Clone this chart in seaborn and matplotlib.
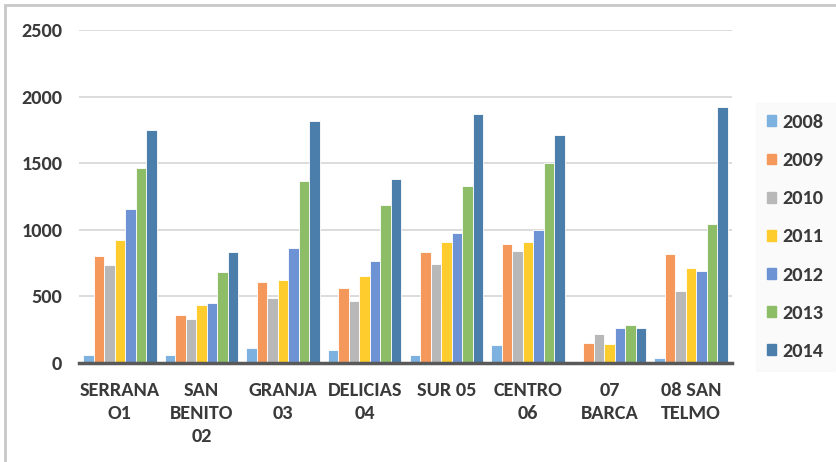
import matplotlib
matplotlib.use("Agg")
import matplotlib.pyplot as plt
import matplotlib.patches as mpatches
import seaborn as sns
import pandas as pd

# Datos
zonas = ["SERRANA\nO1", "SAN\nBENITO\n02", "GRANJA\n03", "DELICIAS\n04",
         "SUR 05", "CENTRO\n06", "07\nBARCA", "08 SAN\nTELMO"]
anios = ["2008", "2009", "2010", "2011", "2012", "2013", "2014"]

v2008 = [60, 60, 110, 95, 60, 135, 0, 35]
v2009 = [800, 360, 605, 565, 830, 895, 150, 815]
v2010 = [735, 330, 490, 465, 740, 840, 215, 540]
v2011 = [920, 435, 620, 650, 910, 910, 140, 715]
v2012 = [1155, 450, 860, 765, 975, 1000, 260, 690]
v2013 = [1465, 685, 1370, 1185, 1330, 1505, 285, 1045]
v2014 = [1750, 830, 1820, 1380, 1870, 1710, 260, 1925]

colores = ["#7DB1E0", "#F4995B", "#B8B8B8", "#FFCC2E", "#6D93D5", "#8DBE67", "#4B7EAA"]

series = [v2008, v2009, v2010, v2011, v2012, v2013, v2014]
filas = []
for anio, vals in zip(anios, series):
    for z, v in zip(zonas, vals):
        filas.append({"zona": z, "anio": anio, "valor": v})
df = pd.DataFrame(filas)

sns.set_style("white")
fuente = ["Carlito", "DejaVu Sans"]
plt.rcParams["font.family"] = fuente
gris = "#3A3A3A"

fig = plt.figure(figsize=(8.36, 4.62), dpi=100)
ax = fig.add_axes([79 / 836, 99 / 462, 653 / 836, 333 / 462])

sns.barplot(data=df, x="zona", y="valor", hue="anio", palette=colores, saturation=1,
            width=0.9, edgecolor="white", linewidth=0.6, ax=ax, legend=False)

ax.set_ylim(0, 2500)
ax.set_xlim(-0.5, len(zonas) - 0.5)
ax.set_yticks([0, 500, 1000, 1500, 2000, 2500])
ax.yaxis.grid(True, color="#D9D9D9", linewidth=1.3)
ax.set_axisbelow(True)
ax.set_xlabel("")
ax.set_ylabel("")
for s in ["top", "right", "left"]:
    ax.spines[s].set_visible(False)
ax.spines["bottom"].set_color("#595959")
ax.spines["bottom"].set_linewidth(2.5)

ax.tick_params(axis="y", length=0, pad=12, labelsize=14.6, labelcolor=gris)
ax.tick_params(axis="x", which="major", length=0, pad=14, labelsize=14.6, labelcolor=gris)
ax.set_xticks([i - 0.5 for i in range(len(zonas) + 1)], minor=True)
ax.tick_params(axis="x", which="minor", length=6, width=2.5, color="#595959", direction="out")
for lab in ax.get_xticklabels():
    lab.set_fontweight("bold")
    lab.set_linespacing(1.42)
for lab in ax.get_yticklabels():
    lab.set_fontweight("bold")

manijas = [mpatches.Patch(color=c, label=a) for c, a in zip(colores, anios)]
leg = fig.legend(handles=manijas, loc="upper left", bbox_to_anchor=(756 / 836, 1 - 103 / 462),
                 frameon=True, fancybox=False, facecolor="#F9F9F9", edgecolor="#F9F9F9",
                 prop={"family": fuente, "weight": "bold", "size": 14.6},
                 labelspacing=1.04, handlelength=0.45, handleheight=0.45, handletextpad=0.3,
                 borderpad=0.55, borderaxespad=0)
for t in leg.get_texts():
    t.set_color(gris)

# marco del área del gráfico
fig.add_artist(mpatches.Rectangle((5 / 836, -0.05), 1.2, (457 / 462) + 0.05,
                                  transform=fig.transFigure, fill=False,
                                  edgecolor="#C8C8C8", linewidth=2))

fig.savefig("out.png", dpi=100)
